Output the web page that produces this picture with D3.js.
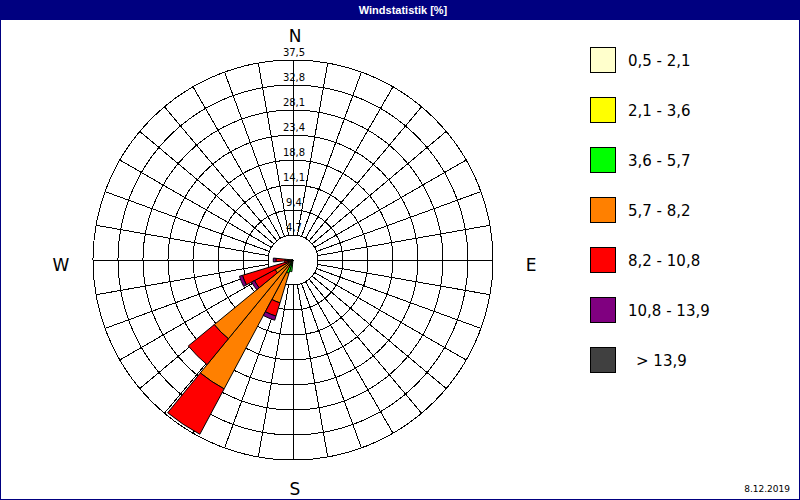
<!DOCTYPE html>
<html>
<head>
<meta charset="utf-8">
<script src="https://cdn.jsdelivr.net/npm/d3@7"></script>
<style>
  body { margin: 0; background: #fff; }
  svg { display: block; }
  text { font-family: "DejaVu Sans", Verdana, sans-serif; }
</style>
</head>
<body>
<svg id="chart" width="800" height="500"></svg>
<script>
// Windrose — 32 sectors, stacked by speed class (values in %)
const directions = [191.25, 202.5, 213.75, 225, 236.25, 247.5, 258.75, 270];
const speedClasses = ["0,5 - 2,1", "2,1 - 3,6", "3,6 - 5,7", "5,7 - 8,2", "8,2 - 10,8", "10,8 - 13,9", "> 13,9"];
const classColors = ["#FFFFCC", "#FFFF00", "#00FF00", "#FF8000", "#FF0000", "#800080", "#404040"];

const s05_21  = [0.3, 0.2, 0.1, 0.1, 0.1, 0.1, 0.1, 0.1];
const s21_36  = [0.5, 0.4, 0.3, 0.2, 0.1, 0.1, 0.1, 0.1];
const s36_57  = [1.4, 2.0, 0.8, 0.5, 0.3, 0.2, 0.3, 0.2];
const s57_82  = [0.0, 5.8, 26.2, 18.3, 3.3, 0.6, 0.5, 1.1];
const s82_108 = [0.0, 2.6, 9.65, 6.3, 4.4, 8.9, 0.6, 1.7];
const s108_139 = [0.0, 0.8, 0.0, 0.0, 0.6, 0.6, 0.0, 0.5];
const s139    = [0, 0, 0, 0, 0, 0, 0, 0];

const ringTicks = [4.6875, 9.375, 14.0625, 18.75, 23.4375, 28.125, 32.8125, 37.5];
const ringLabels = ["4,7", "9,4", "14,1", "18,8", "23,4", "28,1", "32,8", "37,5"];
const compass = [["N", 0], ["E", 90], ["S", 180], ["W", 270]];
const spokeAngles = d3.range(0, 360, 10);

const svg = d3.select("#chart");
const cx = 293, cy = 260;
const sectorWidth = 360 / 32;

const r = d3.scaleLinear().domain([0, 37.5]).range([0, 200]);

// frame + title bar
svg.append("rect").attr("x", 0.5).attr("y", 0.5).attr("width", 799).attr("height", 499)
  .attr("fill", "#fff").attr("stroke", "#000080");
svg.append("rect").attr("x", 0).attr("y", 0).attr("width", 800).attr("height", 20).attr("fill", "#000080");
svg.append("text").attr("x", 403).attr("y", 14).attr("text-anchor", "middle")
  .attr("fill", "#fff").attr("font-size", 11).attr("font-weight", "bold")
  .style("font-family", "'Liberation Sans Narrow', 'Liberation Sans', sans-serif")
  .text("Windstatistik [%]");

const g = svg.append("g").attr("transform", `translate(${cx},${cy})`);

// grid rings
g.selectAll("circle.ring").data(ringTicks.slice(1)).join("circle")
  .attr("class", "ring").attr("r", d => r(d))
  .attr("fill", "none").attr("stroke", "#000").attr("stroke-width", 1)
  .attr("shape-rendering", "crispEdges");

// spokes
const rad = a => a * Math.PI / 180;
g.selectAll("line.spoke").data(spokeAngles).join("line")
  .attr("class", "spoke")
  .attr("x1", d => r(ringTicks[0]) * Math.sin(rad(d)))
  .attr("y1", d => -r(ringTicks[0]) * Math.cos(rad(d)))
  .attr("x2", d => r(37.5) * Math.sin(rad(d)))
  .attr("y2", d => -r(37.5) * Math.cos(rad(d)))
  .attr("stroke", "#000").attr("stroke-width", 1)
  .attr("shape-rendering", "crispEdges");

// inner (calm) circle
g.append("circle").attr("r", r(ringTicks[0])).attr("fill", "#fff").attr("stroke", "#000")
  .attr("shape-rendering", "crispEdges");

// stacked sectors
const rows = directions.map((dir, i) => ({
  dir,
  c0: s05_21[i], c1: s21_36[i], c2: s36_57[i], c3: s57_82[i],
  c4: s82_108[i], c5: s108_139[i], c6: s139[i]
}));
const keys = ["c0", "c1", "c2", "c3", "c4", "c5", "c6"];
const stacked = d3.stack().keys(keys)(rows);

const arc = d3.arc()
  .innerRadius(d => r(d[0]))
  .outerRadius(d => r(d[1]))
  .startAngle(d => rad(d.data.dir - sectorWidth / 2))
  .endAngle(d => rad(d.data.dir + sectorWidth / 2));

const layers = g.append("g").attr("class", "bars");
stacked.forEach((layer, k) => {
  layers.append("g")
    .selectAll("path")
    .data(layer.filter(d => d[1] - d[0] > 0))
    .join("path")
    .attr("d", arc)
    .attr("fill", classColors[k])
    .attr("stroke", "#000")
    .attr("stroke-width", 1);
});

// ring labels along north axis
g.selectAll("text.ringlab").data(ringTicks).join("text")
  .attr("class", "ringlab")
  .attr("x", 1).attr("y", (d) => -r(d) - 4)
  .attr("text-anchor", "middle").attr("font-size", 10).attr("fill", "#000")
  .text((d, i) => ringLabels[i]);

// compass letters
g.selectAll("text.compass").data(compass).join("text")
  .attr("class", "compass")
  .attr("x", d => d[1] === 90 ? 238 : d[1] === 270 ? -232 : 2)
  .attr("y", d => d[1] === 0 ? -218 : d[1] === 180 ? 235 : 11)
  .attr("text-anchor", "middle").attr("font-size", 17).attr("fill", "#000")
  .text(d => d[0]);

// legend
const legend = svg.append("g").attr("transform", "translate(590,47)");
const items = legend.selectAll("g.item").data(speedClasses).join("g")
  .attr("class", "item")
  .attr("transform", (d, i) => `translate(0,${i * 50})`);
items.append("rect").attr("x", 0.5).attr("y", 0.5).attr("width", 25).attr("height", 25)
  .attr("fill", (d, i) => classColors[i]).attr("stroke", "#000");
items.append("text")
  .attr("x", (d, i) => i === 6 ? 46 : 38).attr("y", 19)
  .attr("font-size", 15).attr("fill", "#000")
  .text(d => d);

// date
svg.append("text").attr("x", 790).attr("y", 492).attr("text-anchor", "end")
  .attr("font-size", 9).attr("fill", "#000").text("8.12.2019");
</script>
</body>
</html>
